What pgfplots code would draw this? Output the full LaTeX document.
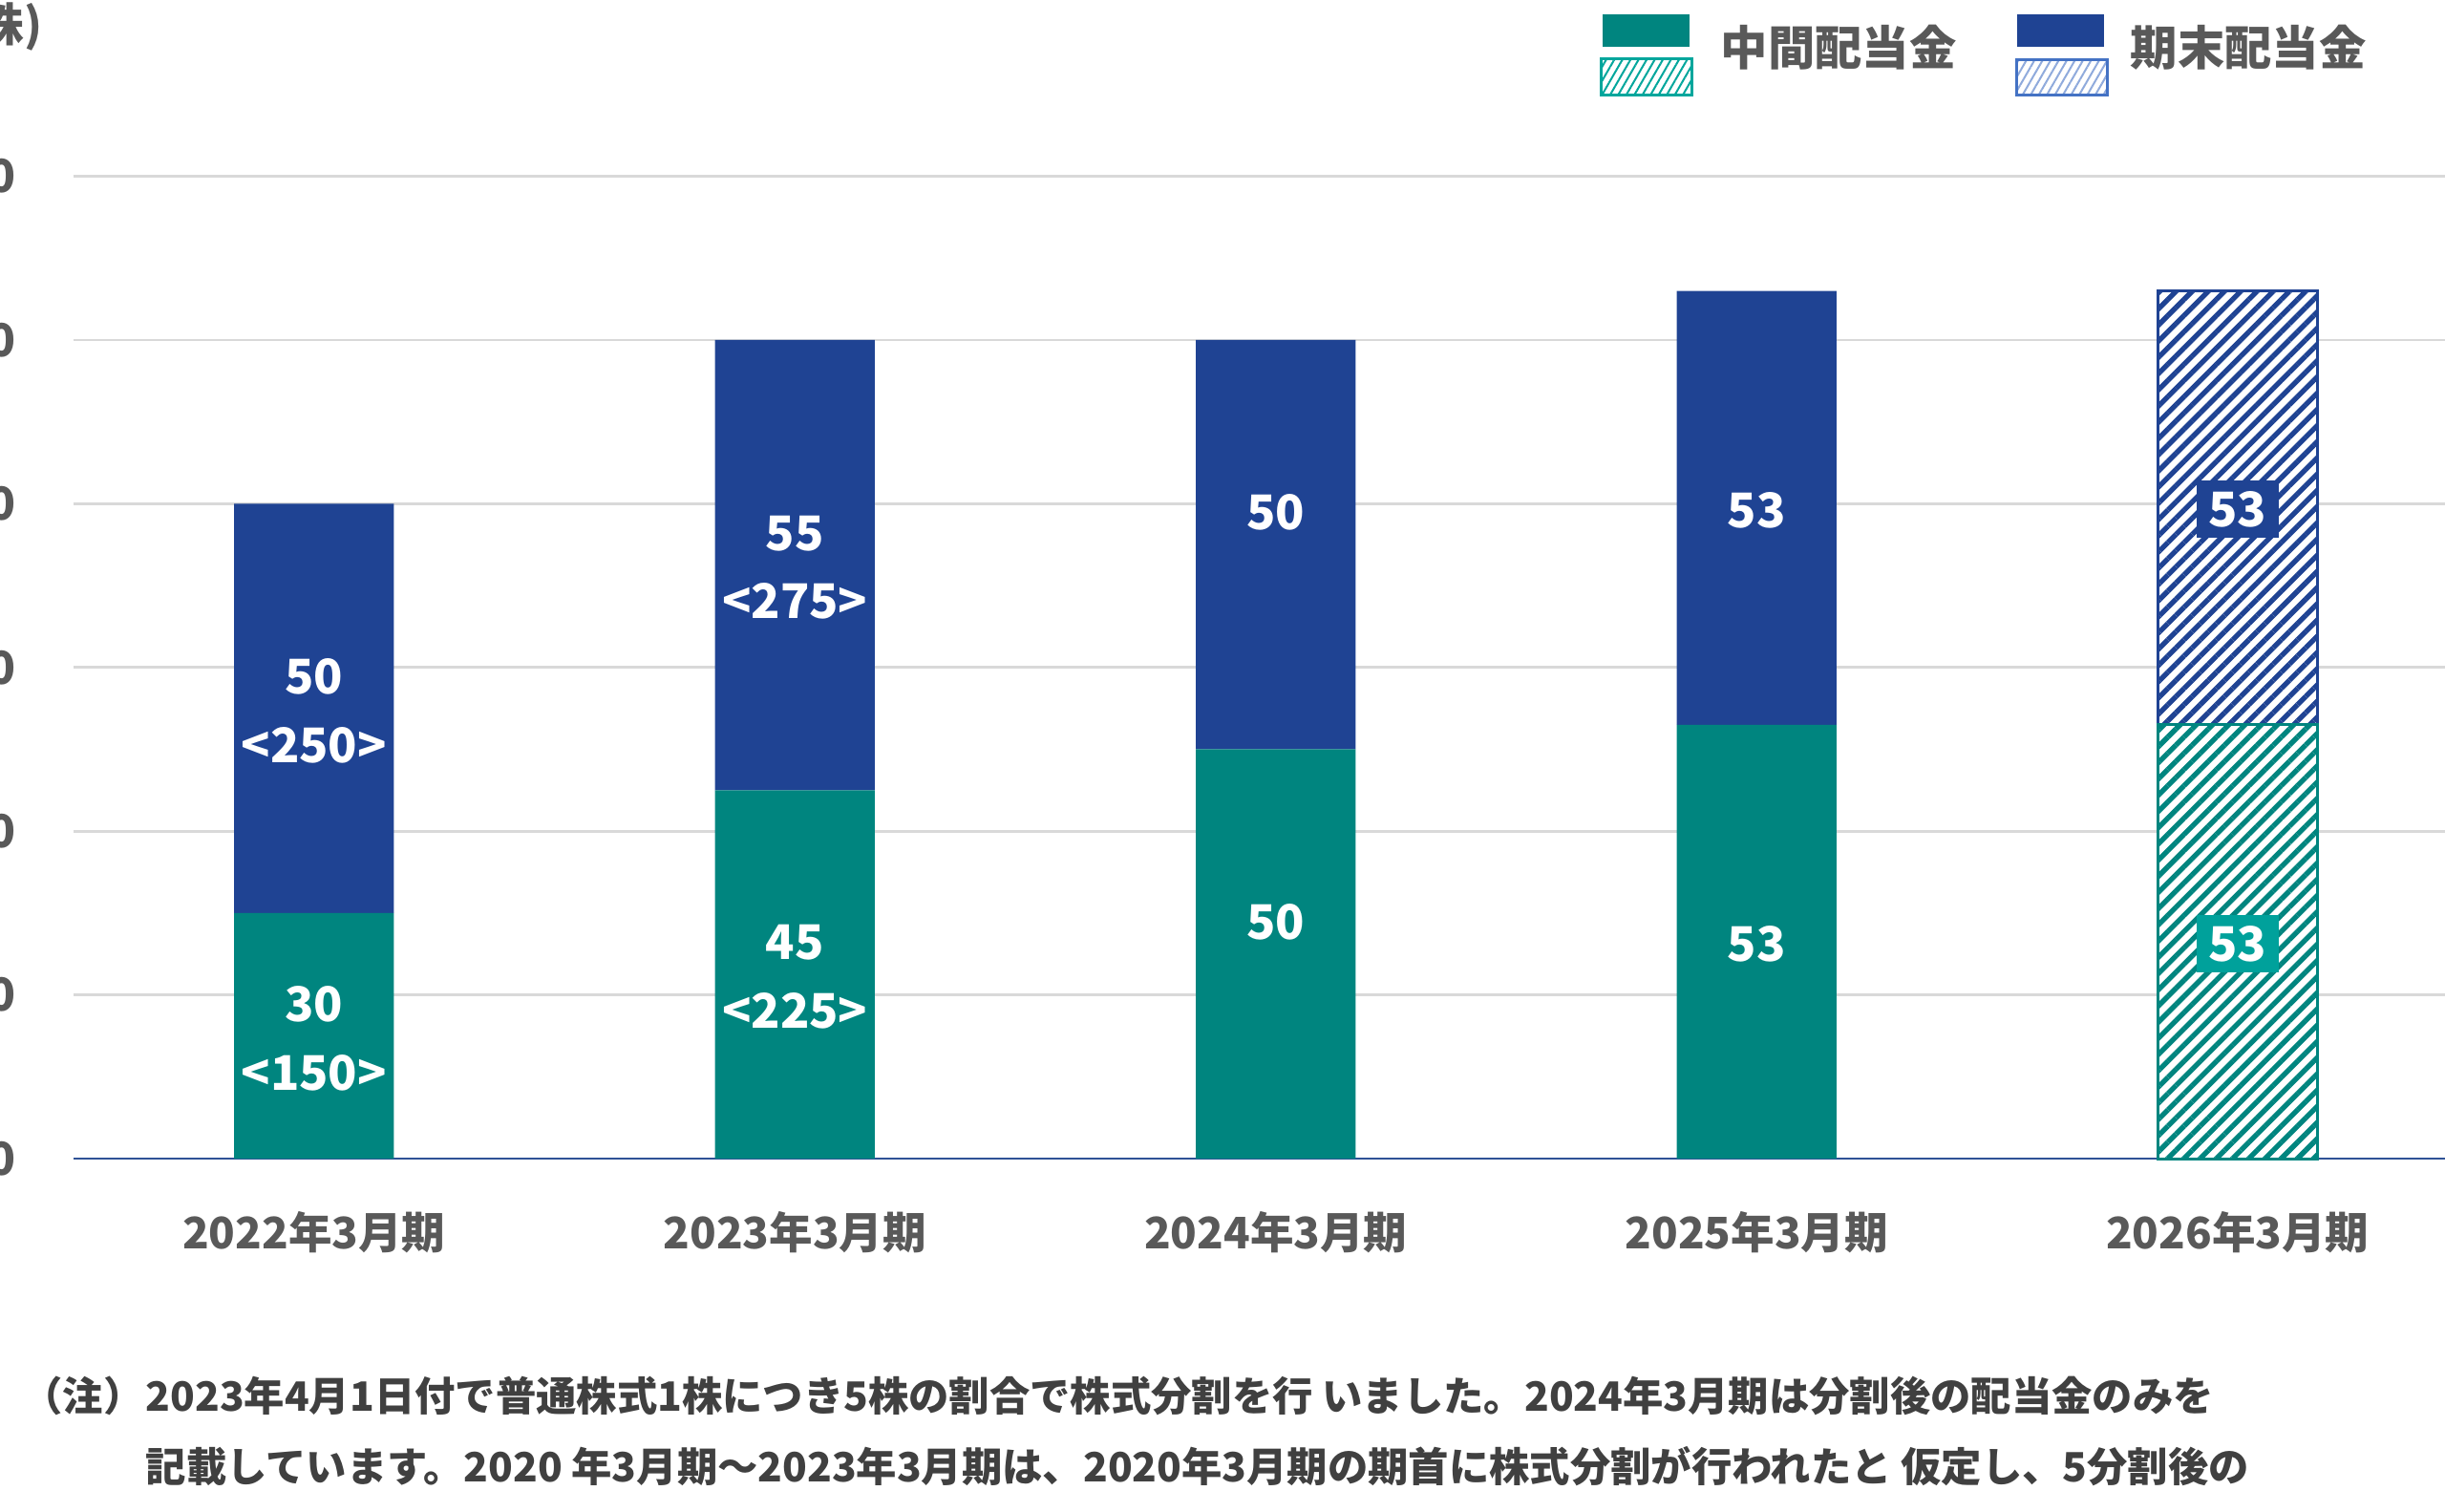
\documentclass[border=0pt]{standalone}
\usepackage{fontspec}
\setmainfont{Noto Sans CJK JP}
\usepackage{pgfplots}
\usepackage{pgfplotstable}
\pgfplotsset{compat=1.18}
\usetikzlibrary{patterns.meta}
\definecolor{tealc}{RGB}{0,133,127}
\definecolor{navyc}{RGB}{31,67,147}
\definecolor{tealbox}{RGB}{0,161,155}
\definecolor{gridc}{RGB}{217,217,217}
\definecolor{axc}{RGB}{47,82,150}
\definecolor{txtg}{RGB}{89,89,89}
\definecolor{notec}{RGB}{64,64,64}
\definecolor{legblue}{RGB}{68,114,196}
\definecolor{legbluel}{RGB}{143,170,220}
\definecolor{legteal}{RGB}{0,166,156}
\tikzset{lbl/.style={text=white, font=\bfseries\fontsize{15}{21.5}\selectfont, align=center, inner sep=0pt}}

\pgfplotstableread{
x teal tealh navy navyh
0 30 0 50 0
1 45 0 55 0
2 50 0 50 0
3 53 0 53 0
4 0 53 0 53
}\divdata

\begin{document}
\begin{tikzpicture}
\begin{axis}[
  at={(23.1pt,-363.9pt)}, anchor=south west,
  scale only axis, width=755.25pt, height=308.55pt,
  xmin=-0.5, xmax=4.5, ymin=0, ymax=120,
  ybar stacked, bar width=0.332,
  xtick={0,1,2,3,4},
  xticklabels={2022年3月期,2023年3月期,2024年3月期,2025年3月期,2026年3月期},
  ytick={0,20,40,60,80,100,120},
  axis x line=bottom, axis y line=left,
  axis line style={-},
  y axis line style={draw=none},
  x axis line style={draw=axc, line width=0.8pt},
  major tick length=0pt,
  ymajorgrids, grid style={draw=gridc, line width=0.8pt},
  /pgf/number format/assume math mode=true,
  tick label style={font=\bfseries\fontsize{14.3}{16}\selectfont, text=txtg},
  xticklabel style={font=\bfseries\fontsize{13.65}{16}\selectfont, anchor=center, yshift=-23.1pt},
  yticklabel style={anchor=east, inner sep=0pt, xshift=-18pt},
  clip=false,
]
\addplot[fill=tealc, draw=none] table[x=x,y=teal]{\divdata};
\addplot[fill=white, draw=tealc, line width=0.9pt,
  postaction={pattern={Lines[angle=45,distance=3.6pt,line width=1.6pt]}, pattern color=tealc}]
  table[x=x,y=tealh]{\divdata};
\addplot[fill=navyc, draw=none] table[x=x,y=navy]{\divdata};
\addplot[fill=white, draw=navyc, line width=0.9pt,
  postaction={pattern={Lines[angle=45,distance=3.6pt,line width=1.6pt]}, pattern color=navyc}]
  table[x=x,y=navyh]{\divdata};

\coordinate (l1) at (axis cs:0,14.7);
\coordinate (l2) at (axis cs:0,54.7);
\coordinate (l3) at (axis cs:1,22.2);
\coordinate (l4) at (axis cs:1,72.2);
\coordinate (l5) at (axis cs:2,28.9);
\coordinate (l6) at (axis cs:2,78.9);
\coordinate (l7) at (axis cs:3,26.2);
\coordinate (l8) at (axis cs:3,79.2);
\coordinate (l9) at (axis cs:4,26.2);
\coordinate (l10) at (axis cs:4,79.3);
\end{axis}

\node[lbl] at (l1) {30\\<150>};
\node[lbl] at (l2) {50\\<250>};
\node[lbl] at (l3) {45\\<225>};
\node[lbl] at (l4) {55\\<275>};
\node[lbl] at (l5) {50};
\node[lbl] at (l6) {50};
\node[lbl] at (l7) {53};
\node[lbl] at (l8) {53};
\node[lbl, fill=tealbox, minimum width=25.8pt, minimum height=18pt] at (l9) {53};
\node[lbl, fill=navyc, minimum width=25.8pt, minimum height=18pt] at (l10) {53};

% y unit label
\node[anchor=east, inner sep=0pt, text=txtg, font=\bfseries\fontsize{14.3}{16}\selectfont] at (13.5pt,-8.4pt) {(円/株)};

% legend
\fill[tealc] (503.4pt,-4.5pt) rectangle (530.7pt,-14.7pt);
\fill[white] (502.8pt,-18.3pt) rectangle (531.3pt,-29.7pt);
\path[pattern={Lines[angle=60,distance=2.2pt,line width=0.6pt]}, pattern color=legteal] (502.8pt,-18.3pt) rectangle (531.3pt,-29.7pt);
\draw[legteal, line width=0.9pt] (502.8pt,-18.3pt) rectangle (531.3pt,-29.7pt);
\node[anchor=west, inner sep=0pt, text=txtg, font=\bfseries\fontsize{14.8}{16}\selectfont] at (540.3pt,-15pt) {中間配当金};

\fill[navyc] (633.6pt,-4.5pt) rectangle (660.9pt,-14.7pt);
\fill[white] (633.3pt,-18.6pt) rectangle (661.8pt,-29.7pt);
\path[pattern={Lines[angle=60,distance=2.2pt,line width=0.6pt]}, pattern color=legbluel] (633.3pt,-18.6pt) rectangle (661.8pt,-29.7pt);
\draw[legblue, line width=0.9pt] (633.3pt,-18.6pt) rectangle (661.8pt,-29.7pt);
\node[anchor=west, inner sep=0pt, text=txtg, font=\bfseries\fontsize{14.8}{16}\selectfont] at (669pt,-15pt) {期末配当金};

% footnote
\begin{scope}[every node/.style={anchor=west, inner sep=0pt, text=notec, font=\bfseries\fontsize{12.7}{15}\selectfont}]
\node at (6.8pt,-438.3pt) {（注）};
\node at (45.6pt,-438.3pt) {2023年4月1日付で普通株式1株につき5株の割合で株式分割を行 いました。2024年3月期は分割後の配当金のみを};
\node at (45.6pt,-460.5pt) {記載しています。2020 年3月期～2023年3月期は、2020年3月期の期首に株式分割が行われたと 仮定し、5分割後の};
\end{scope}

\pgfresetboundingbox
\path[use as bounding box] (0pt,0pt) rectangle (768pt,-474.6pt);
\end{tikzpicture}
\end{document}
